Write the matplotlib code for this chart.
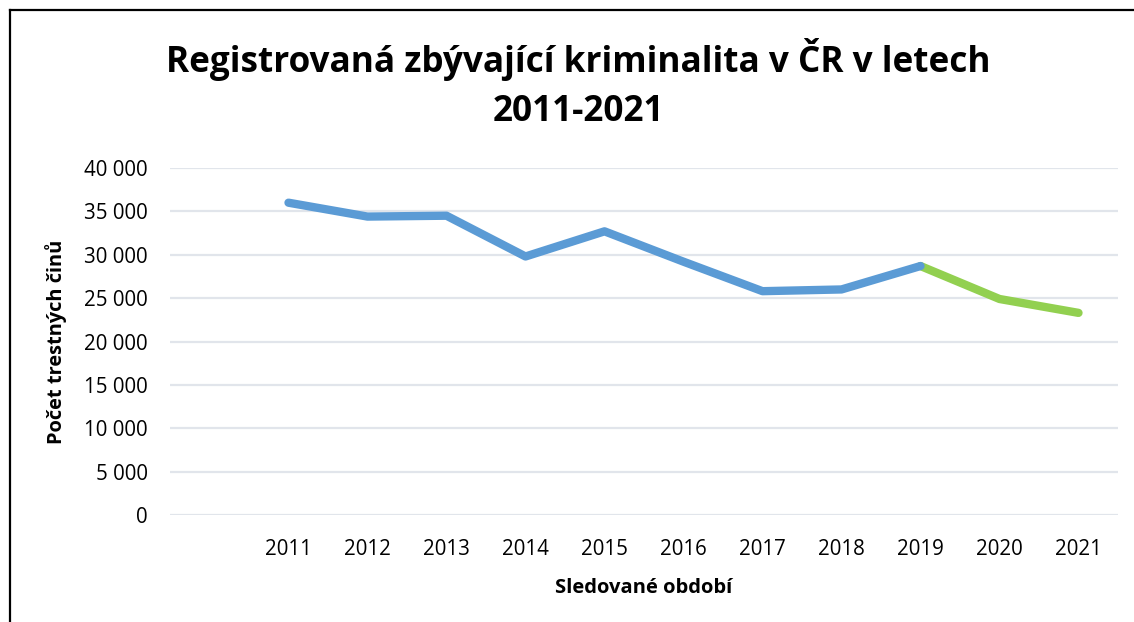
import matplotlib
matplotlib.use("Agg")
import matplotlib.pyplot as plt
from matplotlib.ticker import FuncFormatter, MultipleLocator
from matplotlib.lines import Line2D

categories = ["", "2011", "2012", "2013", "2014", "2015", "2016", "2017", "2018", "2019", "2020", "2021"]
blue_years = ["2011", "2012", "2013", "2014", "2015", "2016", "2017", "2018", "2019"]
blue_values = [36000, 34400, 34500, 29800, 32700, 29200, 25800, 26000, 28700]
green_years = ["2019", "2020", "2021"]
green_values = [28700, 24900, 23300]

FONT = "Open Sans"
W, H = 1134, 622
fig = plt.figure(figsize=(W / 100, H / 100), dpi=100)
ax = fig.add_axes([170 / W, 1 - 515 / H, (1118 - 170) / W, (515 - 168) / H])

xpos = {c: i for i, c in enumerate(categories)}
ax.plot([xpos[y] for y in blue_years], blue_values, color="#5B9BD5", lw=6,
        solid_capstyle="round", solid_joinstyle="round", zorder=3)
ax.plot([xpos[y] for y in green_years], green_values, color="#92D050", lw=6,
        solid_capstyle="round", solid_joinstyle="round", zorder=2)

ax.set_xlim(-0.5, len(categories) - 0.5)
ax.set_ylim(0, 40000)
ax.yaxis.set_major_locator(MultipleLocator(5000))
ax.yaxis.set_major_formatter(FuncFormatter(lambda v, p: f"{v:,.0f}".replace(",", " ")))
ax.set_xticks(range(len(categories)))
ax.set_xticklabels(categories)
ax.grid(axis="y", color="#E1E5EB", lw=1.6)
ax.set_axisbelow(True)
for s in ax.spines.values():
    s.set_visible(False)
ax.tick_params(length=0, labelsize=14.8, colors="black")
ax.tick_params(axis="y", pad=16)
ax.tick_params(axis="x", pad=17)
for lab in ax.get_xticklabels() + ax.get_yticklabels():
    lab.set_fontfamily(FONT)

ax.set_xlabel("Sledované období", fontfamily=FONT, fontweight="bold", fontsize=14.5, labelpad=13)
ax.set_ylabel("Počet trestných činů", fontfamily=FONT, fontweight="bold", fontsize=14.4, labelpad=12)

fig.text(578 / W, 1 - 84 / H, "Registrovaná zbývající kriminalita v ČR v letech\n2011-2021",
         ha="center", va="center", fontfamily=FONT, fontweight="bold", fontsize=25.3,
         linespacing=1.45)

fig.add_artist(Line2D([10 / W, 10 / W], [0, 1 - 10 / H], transform=fig.transFigure, color="black", lw=1.6))
fig.add_artist(Line2D([10 / W, 1], [1 - 10 / H, 1 - 10 / H], transform=fig.transFigure, color="black", lw=1.6))

fig.savefig("out.png", dpi=100)
